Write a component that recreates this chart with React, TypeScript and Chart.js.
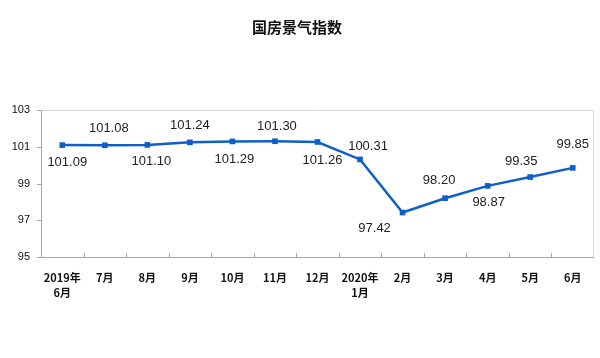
import React, { useEffect, useRef } from "react";
import { Chart, registerables } from "chart.js";

Chart.register(...registerables);

const title = "国房景气指数";
const categories: (string | string[])[] = [
  ["2019年", "6月"], "7月", "8月", "9月", "10月", "11月", "12月",
  ["2020年", "1月"], "2月", "3月", "4月", "5月", "6月",
];
const values = [101.09, 101.08, 101.1, 101.24, 101.29, 101.3, 101.26, 100.31, 97.42, 98.2, 98.87, 99.35, 99.85];
const valueLabels = ["101.09", "101.08", "101.10", "101.24", "101.29", "101.30", "101.26", "100.31", "97.42", "98.20", "98.87", "99.35", "99.85"];
const yTicks = [95, 97, 99, 101, 103];

// label placement offsets (pixels) relative to each point
const labelDx = [5, 4, 4, 0, 2, 2, 5, 8, -28, -6, 1, -9, 0];
const labelDy = [17, -17, 17, -17, 18, -15, 18, -13, 16, -18, 17, -16, -23];

const LINE = "#0e5fc8";

const decoPlugin = {
  id: "deco",
  beforeDatasetsDraw(chart: any) {
    const { ctx, chartArea: a, scales } = chart;
    ctx.save();
    ctx.strokeStyle = "#d9d9d9";
    ctx.lineWidth = 1;
    ctx.beginPath();
    ctx.moveTo(a.left, a.top + 0.5);
    ctx.lineTo(a.right - 0.5, a.top + 0.5);
    ctx.lineTo(a.right - 0.5, a.bottom);
    ctx.stroke();
    ctx.strokeStyle = "#a6a6a6";
    ctx.beginPath();
    ctx.moveTo(a.left + 0.5, a.top);
    ctx.lineTo(a.left + 0.5, a.bottom + 0.5);
    ctx.lineTo(a.right, a.bottom + 0.5);
    ctx.stroke();
    const ys = scales.y;
    ctx.beginPath();
    yTicks.forEach((v) => {
      const y = Math.round(ys.getPixelForValue(v)) + 0.5;
      ctx.moveTo(a.left - 4, y);
      ctx.lineTo(a.left, y);
    });
    const n = categories.length;
    const w = (a.right - a.left) / n;
    for (let i = 1; i < n; i++) {
      const x = Math.round(a.left + w * i) + 0.5;
      ctx.moveTo(x, a.bottom);
      ctx.lineTo(x, a.bottom - 4);
    }
    ctx.stroke();
    ctx.restore();
  },
  afterDatasetsDraw(chart: any) {
    const { ctx } = chart;
    const meta = chart.getDatasetMeta(0);
    ctx.save();
    ctx.fillStyle = "#222";
    ctx.font = "13px 'Liberation Sans', Arial, sans-serif";
    ctx.textAlign = "center";
    ctx.textBaseline = "middle";
    meta.data.forEach((pt: any, i: number) => {
      ctx.fillText(valueLabels[i], pt.x + labelDx[i], pt.y + labelDy[i]);
    });
    ctx.restore();
  },
};

export default function App() {
  const ref = useRef<HTMLCanvasElement>(null);
  useEffect(() => {
    document.body.style.margin = "0";
    const chart = new Chart(ref.current!, {
      type: "line",
      data: {
        labels: categories,
        datasets: [
          {
            data: values,
            borderColor: LINE,
            backgroundColor: LINE,
            borderWidth: 2.5,
            pointStyle: "rect",
            pointRadius: 4,
            pointBorderWidth: 0,
            tension: 0,
          },
        ],
      },
      options: {
        animation: false,
        responsive: false,
        layout: { padding: { top: 0, right: 6, bottom: 0, left: 0 } },
        plugins: {
          legend: { display: false },
          tooltip: { enabled: false },
          title: {
            display: true,
            text: title,
            color: "#111",
            font: { size: 15, family: "'Noto Sans CJK SC', sans-serif", weight: "bold" },
            padding: { top: 18, bottom: 74 },
          },
        },
        scales: {
          x: {
            offset: true,
            grid: { display: false, drawTicks: false },
            border: { display: false },
            ticks: {
              color: "#111",
              font: { size: 11, family: "'Noto Sans CJK SC', sans-serif", weight: "bold", lineHeight: 1.4 },
              padding: 13,
              maxRotation: 0,
              autoSkip: false,
            },
            afterFit(s: any) { s.height = 101; },
          },
          y: {
            min: 95,
            max: 103,
            grid: { display: false, drawTicks: false },
            border: { display: false },
            ticks: {
              stepSize: 2,
              color: "#111",
              font: { size: 11, family: "'Liberation Sans', Arial, sans-serif" },
              padding: 11,
            },
            afterFit(s: any) { s.width = 41; },
          },
        },
      },
      plugins: [decoPlugin],
    });
    return () => chart.destroy();
  }, []);
  return (
    <div style={{ width: 600, height: 358 }}>
      <canvas ref={ref} width={600} height={358} />
    </div>
  );
}
